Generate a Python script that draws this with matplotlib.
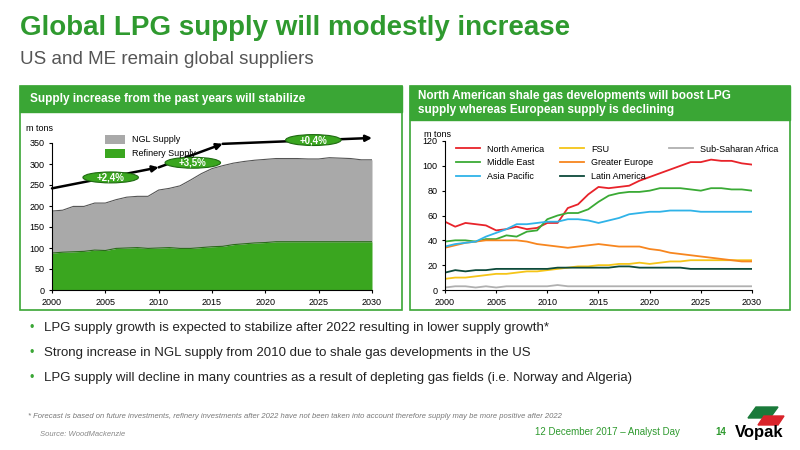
import matplotlib
matplotlib.use("Agg")
import matplotlib.pyplot as plt
from matplotlib.patches import Rectangle, Ellipse, Polygon
from matplotlib.lines import Line2D
import numpy as np

years = list(range(2000, 2031))
refinery = [88,90,91,92,95,94,99,100,101,99,100,101,99,99,101,103,104,108,110,112,113,115,115,115,115,115,115,115,115,115,115]
total = [188,190,199,199,207,207,215,221,223,223,238,242,248,262,277,289,296,302,306,309,311,313,313,313,312,312,315,314,313,310,310]
trend_x = [2000, 2010, 2016, 2030]
trend_y = [242, 292, 348, 362]
growth_labels = ["+2,4%", "+3,5%", "+0,4%"]
growth_pos = [(2005.5, 268), (2013.2, 303), (2024.5, 357)]

regions = ["North America", "FSU", "Sub-Saharan Africa", "Middle East", "Greater Europe", "Asia Pacific", "Latin America"]
NA = [55,51,54,53,52,48,49,51,49,50,54,54,66,69,77,83,82,83,84,88,91,94,97,100,103,103,105,104,104,102,101]
FSU = [9,10,10,11,12,13,13,14,15,15,16,17,18,19,19,20,20,21,21,22,21,22,23,23,24,24,24,24,24,24,24]
SSA = [2,3,3,2,3,2,3,3,3,3,3,4,3,3,3,3,3,3,3,3,3,3,3,3,3,3,3,3,3,3,3]
ME = [39,40,40,39,41,41,44,43,47,48,57,60,62,62,65,71,76,78,79,79,80,82,82,82,81,80,82,82,81,81,80]
GE = [34,36,38,39,40,40,40,40,39,37,36,35,34,35,36,37,36,35,35,35,33,32,30,29,28,27,26,25,24,23,23]
AP = [35,37,38,39,43,46,49,53,53,54,55,55,57,57,56,54,56,58,61,62,63,63,64,64,64,63,63,63,63,63,63]
LA = [14,16,15,16,16,17,17,17,17,17,17,18,18,18,18,18,18,19,19,18,18,18,18,18,17,17,17,17,17,17,17]
series = [NA, FSU, SSA, ME, GE, AP, LA]
colors = ["#e8232a", "#f5c518", "#b0b0b0", "#3aaa35", "#f7861f", "#2fb3e8", "#0d4a3a"]

GREEN = "#2f9a2f"
HDR = "#3aa635"
W, H = 800, 450
fig = plt.figure(figsize=(8, 4.5), dpi=100)
plt.rcParams['font.family'] = ['Liberation Sans', 'DejaVu Sans']

def fx(x): return x / W
def fy(y): return 1 - y / H

fig.text(fx(20), fy(28), "Global LPG supply will modestly increase", fontsize=20, fontweight="bold", color=GREEN, va="center")
fig.text(fx(20), fy(60), "US and ME remain global suppliers", fontsize=13.5, color="#555555", va="center")

for x0, x1, yh in [(20, 402, 112), (410, 790, 120)]:
    fig.patches.append(Rectangle((fx(x0), fy(310)), fx(x1 - x0), fy(86) - fy(310), transform=fig.transFigure,
                                 fill=False, edgecolor=HDR, lw=1.2))
    fig.patches.append(Rectangle((fx(x0), fy(yh)), fx(x1 - x0), fy(86) - fy(yh), transform=fig.transFigure,
                                 facecolor=HDR, edgecolor=HDR))
fig.text(fx(30), fy(99), "Supply increase from the past years will stabilize", fontsize=8.5, fontweight="bold", color="white", va="center")
fig.text(fx(418), fy(103), "North American shale gas developments will boost LPG\nsupply whereas European supply is declining",
         fontsize=8.5, fontweight="bold", color="white", va="center", linespacing=1.3)

# left chart
ax1 = fig.add_axes([fx(52), fy(290), fx(320), fy(143) - fy(290)])
ax1.fill_between(years, 0, refinery, color="#3aa61f", lw=0, label="Refinery Supply")
ax1.fill_between(years, refinery, total, color="#a9a9a9", lw=0, label="NGL Supply")
ax1.plot(years, total, color="#555555", lw=0.8)
ax1.plot(years, refinery, color="#2a6a1a", lw=0.8)
for i in range(3):
    ax1.annotate("", xy=(trend_x[i + 1], trend_y[i + 1]), xytext=(trend_x[i], trend_y[i]),
                 arrowprops=dict(arrowstyle="-|>", color="black", lw=1.8, mutation_scale=9, shrinkA=0, shrinkB=0),
                 annotation_clip=False)
for lab, (x, y) in zip(growth_labels, growth_pos):
    ax1.add_patch(Ellipse((x, y), 5.2, 26, facecolor="#3aa61f", edgecolor="#1f6a12", lw=0.8, clip_on=False, zorder=5))
    ax1.text(x, y, lab, color="white", fontsize=7, fontweight="bold", ha="center", va="center", zorder=6)
ax1.set_xlim(2000, 2030)
ax1.set_ylim(0, 350)
ax1.set_xticks(range(2000, 2031, 5))
ax1.set_yticks(range(0, 351, 50))
ax1.tick_params(labelsize=6.5, length=2)
for s in ["top", "right"]:
    ax1.spines[s].set_visible(False)
ax1.text(-0.08, 1.08, "m tons", transform=ax1.transAxes, fontsize=6.5)
h, l = ax1.get_legend_handles_labels()
ax1.legend(h[::-1], l[::-1], loc="upper left", bbox_to_anchor=(0.14, 1.11), frameon=False, fontsize=6.5,
           handlelength=2.2, handleheight=1.1, labelspacing=0.5)

# right chart
ax2 = fig.add_axes([fx(445), fy(290), fx(307), fy(141) - fy(290)])
for name, s, c in zip(regions, series, colors):
    ax2.plot(years, s, color=c, lw=1.3, label=name)
ax2.set_xlim(2000, 2030)
ax2.set_ylim(0, 120)
ax2.set_xticks(range(2000, 2031, 5))
ax2.set_yticks(range(0, 121, 20))
ax2.tick_params(labelsize=6.5, length=2)
for s in ["top", "right"]:
    ax2.spines[s].set_visible(False)
ax2.text(-0.07, 1.03, "m tons", transform=ax2.transAxes, fontsize=6.5)
h, l = ax2.get_legend_handles_labels()
blank = Line2D([], [], color="none")
hh = [h[0], h[3], h[5], h[1], h[4], h[6], h[2], blank, blank]
ll = [l[0], l[3], l[5], l[1], l[4], l[6], l[2], "", ""]
ax2.legend(hh, ll, ncol=3, loc="upper left", bbox_to_anchor=(0.01, 1.03), frameon=False, fontsize=6.5,
           handlelength=2.6, columnspacing=1.8, labelspacing=0.5)

bullets = ["LPG supply growth is expected to stabilize after 2022 resulting in lower supply growth*",
           "Strong increase in NGL supply from 2010 due to shale gas developments in the US",
           "LPG supply will decline in many countries as a result of depleting gas fields (i.e. Norway and Algeria)"]
for i, b in enumerate(bullets):
    y = 328 + i * 25
    fig.text(fx(30), fy(y), "•", color=HDR, fontsize=9, va="center")
    fig.text(fx(44), fy(y), b, color="#222222", fontsize=9.5, va="center")
fig.text(fx(28), fy(416), "* Forecast is based on future investments, refinery investments after 2022 have not been taken into account therefore supply may be more positive after 2022",
         fontsize=5.5, style="italic", color="#777777", va="center")
fig.text(fx(40), fy(435), "Source: WoodMackenzie", fontsize=5.5, style="italic", color="#888888", va="center")
fig.text(fx(535), fy(432), "12 December 2017 – Analyst Day", fontsize=7, color=GREEN, va="center")
fig.text(fx(715), fy(432), "14", fontsize=7, color=GREEN, fontweight="bold", va="center")
fig.text(fx(735), fy(433), "Vopak", fontsize=12, fontweight="bold", color="black", va="center")
fig.patches.append(Polygon([(fx(748), fy(418)), (fx(756), fy(407)), (fx(778), fy(407)), (fx(770), fy(418))],
                           closed=True, transform=fig.transFigure, color="#1a7a3a"))
fig.patches.append(Polygon([(fx(758), fy(425)), (fx(764), fy(416)), (fx(784), fy(416)), (fx(778), fy(425))],
                           closed=True, transform=fig.transFigure, color="#d9232a"))

fig.savefig("out.png", dpi=100)
